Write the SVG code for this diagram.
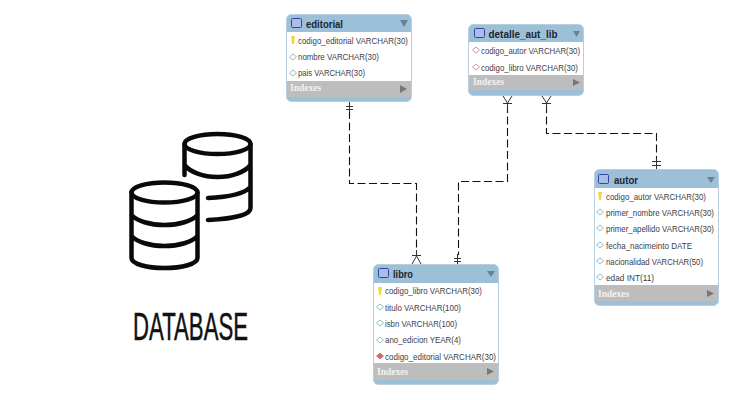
<svg xmlns="http://www.w3.org/2000/svg" width="737" height="400" viewBox="0 0 737 400">
<style>
.card{fill:#9dc0d9;stroke:#b9cfdf;stroke-width:1}
.body{fill:#fff}
.idx{fill:#bdbdbd}
.t{font-family:"Liberation Sans",sans-serif;font-size:10.5px;font-weight:700;fill:#1c2530}
.f{font-family:"Liberation Sans",sans-serif;font-size:9.2px;fill:#3c4048}
.i{font-family:"Liberation Serif",serif;font-size:9.5px;font-weight:700;fill:#f2f2f2}
.ic{fill:#a9bdea;stroke:#34469a;stroke-width:1}
.tri{fill:#6f7f8c}
.tri2{fill:#777}
.k{fill:#f2d64a}
.d{fill:#fff;stroke:#8fb3c0;stroke-width:.9}
.fk{fill:#fff;stroke:#c88a8a;stroke-width:.9}
.fkf{fill:#d06a6a;stroke:#b55;stroke-width:.6}
.dash{fill:none;stroke:#111;stroke-width:1.1;stroke-dasharray:8 3.500}
.m{fill:none;stroke:#333;stroke-width:1}
.db{fill:none;stroke:#0a0a0a;stroke-width:4.500;stroke-linecap:round}
.big{font-family:"Liberation Sans Narrow","Liberation Sans",sans-serif;font-size:38px;fill:#111;stroke:#111;stroke-width:.5}
</style>
<rect width="737" height="400" fill="#fff"/>
<g id="database-icon">
<ellipse class="db" cx="217.500" cy="144" rx="33" ry="10"/>
<path class="db" d="M184.500 144V175M250.500 144V208C250.500 215 232 219 208 220M184.500 165C190 172 203 177 217.500 177C232 177 245 172 250.500 165M250.500 187C245 193 230 197 208 198"/>
<ellipse class="db" cx="164.500" cy="192.500" rx="33" ry="10"/>
<path class="db" d="M131.500 192.500V258C131.500 264 147 268 164.500 268C182 268 197.500 264 197.500 258V192.500M131.500 215C137 221 150 225 164.500 225C179 225 192 221 197.500 215M131.500 236C137 242 150 246 164.500 246C179 246 192 242 197.500 236"/>
</g>
<text id="database-label" class="big" x="133" y="340" textLength="115" lengthAdjust="spacingAndGlyphs">DATABASE</text>
<g id="connectors">
<path class="dash" d="M349.500 111V183.500H416.500V255"/>
<path class="dash" d="M507.500 105V181.500H458.500V255"/>
<path class="dash" d="M546.500 105V133.500H656.500V160"/>
<path class="m" d="M346 106.500H353M346 109.500H353M349.500 102V112"/>
<path class="m" d="M454 258.500H461M454 261.500H461M457.500 254V264"/>
<path class="m" d="M412 255.500H421M416.500 250V256M416.500 256L412 264M416.500 256L421 264"/>
<path class="m" d="M503 103.500H512M507.500 103L503 96M507.500 103L512 96M507.500 103V110"/>
<path class="m" d="M542 103.500H551M546.500 103L542 96M546.500 103L551 96M546.500 103V110"/>
<path class="m" d="M652 161.500H661M652 165.500H661M656.500 158V169"/>
</g>
<g id="editorial">
<rect class="card" x="286.500" y="14.500" width="125" height="87" rx="5"/>
<rect class="body" x="287" y="32" width="124" height="49"/>
<rect class="idx" x="287" y="81" width="124" height="16"/>
<rect class="ic" x="291.500" y="18.500" width="10" height="9" rx="1"/>
<text class="t" x="306" y="27.500" textLength="37" lengthAdjust="spacingAndGlyphs">editorial</text>
<path class="tri" d="M400 20H408L404 27Z"/>
<path class="k" d="M291 36H295L294 44H292Z"/>
<text class="f" x="298" y="44" textLength="110" lengthAdjust="spacingAndGlyphs">codigo_editorial VARCHAR(30)</text>
<path class="d" d="M293 54L296.500 57L293 60L289.500 57Z"/>
<text class="f" x="298" y="60" textLength="81" lengthAdjust="spacingAndGlyphs">nombre VARCHAR(30)</text>
<path class="d" d="M293 70L296.500 73L293 76L289.500 73Z"/>
<text class="f" x="298" y="76" textLength="67" lengthAdjust="spacingAndGlyphs">pais VARCHAR(30)</text>
<text class="i" x="290" y="91">Indexes</text>
<path class="tri2" d="M400 85L407 89L400 93Z"/>
</g>
<g id="detalle_aut_lib">
<rect class="card" x="468.500" y="24.500" width="115" height="71" rx="5"/>
<rect class="body" x="469" y="42" width="114" height="33"/>
<rect class="idx" x="469" y="75" width="114" height="15"/>
<rect class="ic" x="474.500" y="28.500" width="10" height="9" rx="1"/>
<text class="t" x="488.500" y="37.500" textLength="69" lengthAdjust="spacingAndGlyphs">detalle_aut_lib</text>
<path class="tri" d="M573 31H580L576.500 37Z"/>
<path class="fk" d="M476 47L479.500 50L476 53L472.500 50Z"/>
<text class="f" x="481" y="54" textLength="99" lengthAdjust="spacingAndGlyphs">codigo_autor VARCHAR(30)</text>
<path class="fk" d="M476 64L479.500 67L476 70L472.500 67Z"/>
<text class="f" x="481" y="71" textLength="97" lengthAdjust="spacingAndGlyphs">codigo_libro VARCHAR(30)</text>
<text class="i" x="473" y="85">Indexes</text>
<path class="tri2" d="M573 79L580 82.500L573 86Z"/>
</g>
<g id="libro">
<rect class="card" x="373.500" y="264.500" width="125" height="120" rx="5"/>
<rect class="body" x="374" y="283" width="124" height="80"/>
<rect class="idx" x="374" y="363" width="124" height="17"/>
<rect class="ic" x="378.500" y="268.500" width="10" height="9" rx="1"/>
<text class="t" x="393" y="277.500" textLength="20" lengthAdjust="spacingAndGlyphs">libro</text>
<path class="tri" d="M487 271H495L491 277Z"/>
<path class="k" d="M378 287H382L381 295H379Z"/>
<text class="f" x="385" y="294" textLength="97" lengthAdjust="spacingAndGlyphs">codigo_libro VARCHAR(30)</text>
<path class="d" d="M380 304L383.500 307L380 310L376.500 307Z"/>
<text class="f" x="385" y="311" textLength="76" lengthAdjust="spacingAndGlyphs">titulo VARCHAR(100)</text>
<path class="d" d="M380 320L383.500 323L380 326L376.500 323Z"/>
<text class="f" x="385" y="327" textLength="72" lengthAdjust="spacingAndGlyphs">isbn VARCHAR(100)</text>
<path class="d" d="M380 337L383.500 340L380 343L376.500 340Z"/>
<text class="f" x="385" y="343" textLength="76" lengthAdjust="spacingAndGlyphs">ano_edicion YEAR(4)</text>
<path class="fkf" d="M380 353L383.500 356L380 359L376.500 356Z"/>
<text class="f" x="385" y="360" textLength="111" lengthAdjust="spacingAndGlyphs">codigo_editorial VARCHAR(30)</text>
<text class="i" x="377" y="375">Indexes</text>
<path class="tri2" d="M487 368L494 371.500L487 375Z"/>
</g>
<g id="autor">
<rect class="card" x="594.500" y="169.500" width="124" height="136" rx="5"/>
<rect class="body" x="595" y="188" width="123" height="97"/>
<rect class="idx" x="595" y="285" width="123" height="16"/>
<rect class="ic" x="598.500" y="174.500" width="10" height="9" rx="1"/>
<text class="t" x="614" y="183.500" textLength="24" lengthAdjust="spacingAndGlyphs">autor</text>
<path class="tri" d="M707 177H715L711 183Z"/>
<path class="k" d="M598 192H602L601 200H599Z"/>
<text class="f" x="606" y="200" textLength="100" lengthAdjust="spacingAndGlyphs">codigo_autor VARCHAR(30)</text>
<path class="d" d="M600 209L603.500 212L600 215L596.500 212Z"/>
<text class="f" x="606" y="216" textLength="108" lengthAdjust="spacingAndGlyphs">primer_nombre VARCHAR(30)</text>
<path class="d" d="M600 225L603.500 228L600 231L596.500 228Z"/>
<text class="f" x="606" y="232" textLength="108" lengthAdjust="spacingAndGlyphs">primer_apellido VARCHAR(30)</text>
<path class="d" d="M600 242L603.500 245L600 248L596.500 245Z"/>
<text class="f" x="606" y="249" textLength="86" lengthAdjust="spacingAndGlyphs">fecha_nacimeinto DATE</text>
<path class="d" d="M600 258L603.500 261L600 264L596.500 261Z"/>
<text class="f" x="606" y="265" textLength="97" lengthAdjust="spacingAndGlyphs">nacionalidad VARCHAR(50)</text>
<path class="d" d="M600 274L603.500 277L600 280L596.500 277Z"/>
<text class="f" x="606" y="281" textLength="48" lengthAdjust="spacingAndGlyphs">edad INT(11)</text>
<text class="i" x="598" y="297">Indexes</text>
<path class="tri2" d="M707 290L714 293.500L707 297Z"/>
</g>
</svg>
